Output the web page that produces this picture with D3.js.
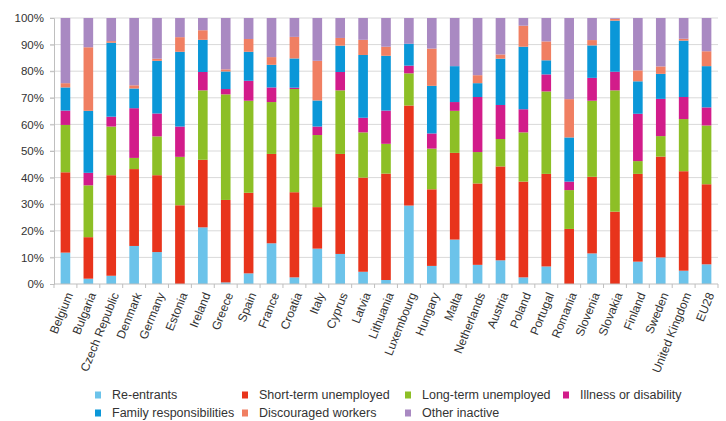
<!DOCTYPE html>
<html><head><meta charset="utf-8">
<script src="https://cdn.jsdelivr.net/npm/d3@7"></script>
<style>body{margin:0;background:#fff;} text{font-family:"Liberation Sans",Arial,sans-serif;}</style>
</head><body><svg id="c" width="726" height="421"></svg>
<script>
const categories = ["Belgium","Bulgaria","Czech Republic","Denmark","Germany","Estonia","Ireland","Greece","Spain","France","Croatia","Italy","Cyprus","Latvia","Lithuania","Luxembourg","Hungary","Malta","Netherlands","Austria","Poland","Portugal","Romania","Slovenia","Slovakia","Finland","Sweden","United Kingdom","EU28"];
const seriesNames = ["Re-entrants","Short-term unemployed","Long-term unemployed","Illness or disability","Family responsibilities","Discouraged workers","Other inactive"];
const reEntrants   = [11.8,2.0,3.1,14.3,12.0,0,21.3,0.6,4.0,15.3,2.5,13.3,11.3,4.6,1.5,29.5,6.8,16.7,7.2,8.9,2.5,6.6,0,11.5,0,8.4,10.0,5.0,7.4];
const shortTerm    = [30.2,15.6,37.8,28.9,28.9,29.6,25.4,31.0,30.3,33.6,32.0,15.6,37.6,35.4,40.0,37.6,28.8,32.6,30.6,35.3,36.0,34.8,20.7,28.8,27.2,33.0,37.9,37.4,30.1];
const longTerm     = [17.8,19.5,18.3,4.2,14.6,18.2,26.1,39.7,34.6,19.5,38.8,27.1,23.9,17.0,11.2,12.1,15.3,15.8,11.8,10.3,18.5,31.0,14.6,28.6,45.6,4.8,7.7,19.6,22.1];
const illness      = [5.4,4.7,3.7,18.7,8.6,11.4,6.9,2.0,7.5,5.5,0.5,3.2,6.9,5.5,12.5,2.9,5.7,3.3,20.7,12.8,8.7,6.4,3.2,8.6,7.0,17.8,14.0,8.3,6.8];
const family       = [8.7,23.3,27.8,7.4,19.8,28.1,12.1,6.6,10.9,8.5,11.0,9.8,9.9,23.6,20.6,8.2,17.9,13.5,5.2,17.4,23.5,5.3,16.6,12.2,19.2,12.2,9.4,21.2,15.5];
const discouraged  = [1.6,23.9,0.6,1.2,0.8,5.5,3.6,0.8,4.8,2.9,8.1,14.9,2.9,5.7,3.4,0,14.0,0,3.0,1.6,7.9,7.1,14.4,2.0,0.7,4.1,2.8,0.7,5.6];
const otherInactive= [24.5,11.0,8.7,25.3,15.3,7.2,4.6,19.3,7.9,14.7,7.1,16.1,7.5,8.2,10.8,9.7,11.5,18.1,21.5,13.7,2.9,8.8,30.5,8.3,0.3,19.7,18.2,7.8,12.5];
const yTicks = [0,10,20,30,40,50,60,70,80,90,100];
const colors = ["#6cc3ea","#e8341c","#8dbf26","#d21c8a","#0b97d8","#f07f62","#a989c2"];

const seriesData = [reEntrants,shortTerm,longTerm,illness,family,discouraged,otherInactive];
const rows = categories.map((c,i)=>{const r={cat:c}; seriesNames.forEach((s,j)=>r[s]=seriesData[j][i]); return r;});
const stack = d3.stack().keys(seriesNames).offset(d3.stackOffsetExpand);
const layers = stack(rows);

const svg = d3.select("#c");
const m = {l:54, r:8, t:18, b:137};
const W = 726, H = 421;
const x = d3.scaleBand().domain(categories).range([m.l, 718]).paddingInner(0.58).paddingOuter(0.29);
const y = d3.scaleLinear().domain([0,100]).range([284, 18]);

// gridlines
svg.append("g").selectAll("line").data(yTicks.filter(d=>d>0)).join("line")
  .attr("x1", 50).attr("x2", 718).attr("y1", d=>y(d)).attr("y2", d=>y(d))
  .attr("stroke", "#d9d9d9").attr("stroke-width", 1);

// y axis
const ya = svg.append("g").attr("transform", `translate(${m.l},0)`)
  .call(d3.axisLeft(y).tickValues(yTicks).tickFormat(d=>d+"%").tickSize(4).tickPadding(6));
ya.select(".domain").attr("stroke","#bfbfbf");
ya.selectAll(".tick line").attr("stroke","#bfbfbf");
ya.selectAll("text").attr("font-size", 11.5).attr("fill","#333").attr("font-family","Liberation Sans, Arial, sans-serif");

// bars
svg.append("g").selectAll("g").data(layers).join("g")
  .attr("fill", (d,i)=>colors[i])
  .selectAll("rect").data(d=>d).join("rect")
  .attr("x", d=>x(d.data.cat)).attr("width", x.bandwidth())
  .attr("y", d=>y(d[1]*100)).attr("height", d=>Math.max(0, y(d[0]*100)-y(d[1]*100)));

// x axis
const xa = svg.append("g").attr("transform", `translate(0,284)`);
xa.append("line").attr("x1", m.l).attr("x2", 718).attr("stroke","#bfbfbf");
const step = x.step();
const bounds = d3.range(categories.length+1).map(i=>m.l + i*step);
xa.selectAll(".tk").data(bounds).join("line").attr("class","tk")
  .attr("x1", d=>d).attr("x2", d=>d).attr("y1",0).attr("y2",4).attr("stroke","#bfbfbf");
xa.selectAll(".lb").data(categories).join("text").attr("class","lb")
  .attr("transform", d=>`translate(${x(d)+x.bandwidth()/2+4},${9}) rotate(-68)`)
  .attr("text-anchor","end").attr("dy","0.35em")
  .attr("font-size", 12).attr("fill","#333").text(d=>d);

// legend
const legPos = [[95,395],[242,395],[405,395],[563,395],[95,413],[242,413],[405,413]];
const lg = svg.append("g");
seriesNames.forEach((s,i)=>{
  const [lx,ly] = legPos[i];
  lg.append("rect").attr("x",lx).attr("y",ly-3.5).attr("width",6).attr("height",7).attr("fill",colors[i]);
  lg.append("text").attr("x",lx+17).attr("y",ly).attr("dy","0.35em").attr("font-size",12.5).attr("fill","#333").text(s);
});
</script></body></html>
